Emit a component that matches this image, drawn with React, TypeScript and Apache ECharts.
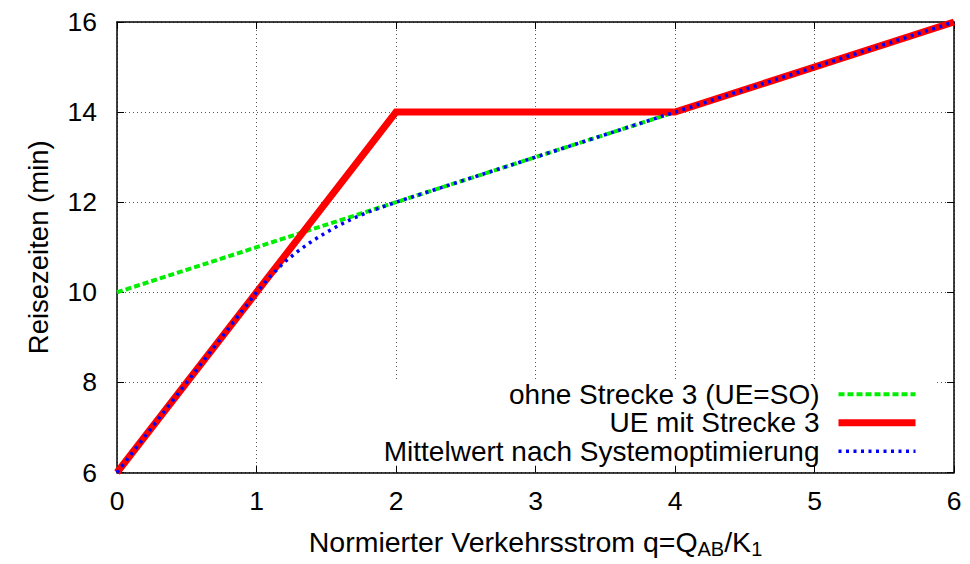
import React, { useEffect, useRef } from "react";
import * as echarts from "echarts";

const FONT = "'Liberation Sans', Arial, Helvetica, sans-serif";

// x ticks 0..6, y ticks 6..16 step 2
const xMin = 0;
const xMax = 6;
const xStep = 1;
const yMin = 6;
const yMax = 16;
const yStep = 2;

const legendNames = [
  "ohne Strecke 3 (UE=SO)",
  "UE mit Strecke 3",
  "Mittelwert nach Systemoptimierung",
];

// q values and travel times
const ohneStrecke3: [number, number][] = [
  [0, 10],
  [6, 16],
];
const ueMitStrecke3: [number, number][] = [
  [0, 6],
  [2, 14],
  [4, 14],
  [6, 16],
];
const mittelwertSO: [number, number][] = [
  [0, 6],
  [1, 10],
  [1.1, 10.36],
  [1.2, 10.67],
  [1.3, 10.92],
  [1.4, 11.14],
  [1.5, 11.33],
  [1.6, 11.5],
  [1.7, 11.65],
  [1.8, 11.78],
  [1.9, 11.89],
  [2, 12],
  [6, 16],
];

const xTitle = "{a|Normierter Verkehrsstrom q=Q}{s|AB}{a|/K}{s|1}";
const yTitle = "Reisezeiten (min)";

export default function App() {
  const ref = useRef<HTMLDivElement>(null);
  useEffect(() => {
    document.body.style.margin = "0";
    document.body.style.overflow = "hidden";
    const chart = echarts.init(ref.current!, null, { renderer: "svg" });
    const axisLine = { show: true, onZero: false, lineStyle: { color: "#000", width: 1.5 } };
    const axisTick = { show: true, inside: true, length: 7, lineStyle: { color: "#000", width: 1 } };
    const splitLine = { show: true, lineStyle: { color: "#555", width: 1, type: [1, 3] } };
    chart.setOption({
      animation: false,
      backgroundColor: "#fff",
      grid: { left: 117, right: 16, top: 22, bottom: 90, show: false },
      xAxis: [
        {
          type: "value",
          min: xMin,
          max: xMax,
          interval: xStep,
          position: "bottom",
          axisLine,
          axisTick,
          axisLabel: { color: "#000", fontSize: 26.5, fontFamily: FONT, margin: 15 },
          splitLine,
          name: xTitle,
          nameLocation: "middle",
          nameGap: 52,
          nameTextStyle: {
            rich: {
              a: { fontSize: 28.5, fontFamily: FONT, color: "#000", lineHeight: 34 },
              s: { fontSize: 20, fontFamily: FONT, color: "#000", lineHeight: 34, padding: [15, 0, 0, 0] },
            },
          },
        },
        {
          type: "value",
          min: xMin,
          max: xMax,
          interval: xStep,
          position: "top",
          axisLine,
          axisTick,
          axisLabel: { show: false },
          splitLine: { show: false },
        },
      ],
      yAxis: [
        {
          type: "value",
          min: yMin,
          max: yMax,
          interval: yStep,
          position: "left",
          axisLine,
          axisTick,
          axisLabel: { color: "#000", fontSize: 26.5, fontFamily: FONT, margin: 20 },
          splitLine,
          name: yTitle,
          nameLocation: "middle",
          nameGap: 65,
          nameTextStyle: { fontSize: 27.5, fontFamily: FONT, color: "#000" },
        },
        {
          type: "value",
          min: yMin,
          max: yMax,
          interval: yStep,
          position: "right",
          axisLine,
          axisTick,
          axisLabel: { show: false },
          splitLine: { show: false },
        },
      ],
      legend: {
        orient: "vertical",
        right: 33,
        top: 380,
        align: "right",
        itemWidth: 77,
        itemHeight: 14,
        itemGap: 0,
        backgroundColor: "#fff",
        padding: [0, 18, 0, 120],
        selectedMode: false,
        itemStyle: { opacity: 0, borderWidth: 0 },
        lineStyle: { width: "inherit", type: "inherit" },
        textStyle: {
          fontSize: 28,
          fontFamily: FONT,
          color: "#000",
          lineHeight: 28.5,
          padding: [0, 14, 0, 0],
        },
        data: legendNames,
      },
      series: [
        {
          type: "line",
          name: legendNames[0],
          data: ohneStrecke3,
          symbol: "none",
          silent: true,
          itemStyle: { color: "#00ee00" },
          lineStyle: { color: "#00ee00", width: 4, type: [6, 3], cap: "butt" },
          z: 2,
        },
        {
          type: "line",
          name: legendNames[1],
          data: ueMitStrecke3,
          symbol: "none",
          silent: true,
          itemStyle: { color: "#ff0000" },
          lineStyle: { color: "#ff0000", width: 7, join: "miter", cap: "butt" },
          z: 3,
        },
        {
          type: "line",
          name: legendNames[2],
          data: mittelwertSO,
          symbol: "none",
          silent: true,
          itemStyle: { color: "#0000ff" },
          lineStyle: { color: "#0000ff", width: 3.5, type: [3, 4.5], cap: "butt" },
          z: 4,
        },
      ],
    });
    return () => chart.dispose();
  }, []);
  return (
    <div
      ref={ref}
      style={{ position: "fixed", left: 0, top: 0, width: 970, height: 564, overflow: "hidden" }}
    />
  );
}
